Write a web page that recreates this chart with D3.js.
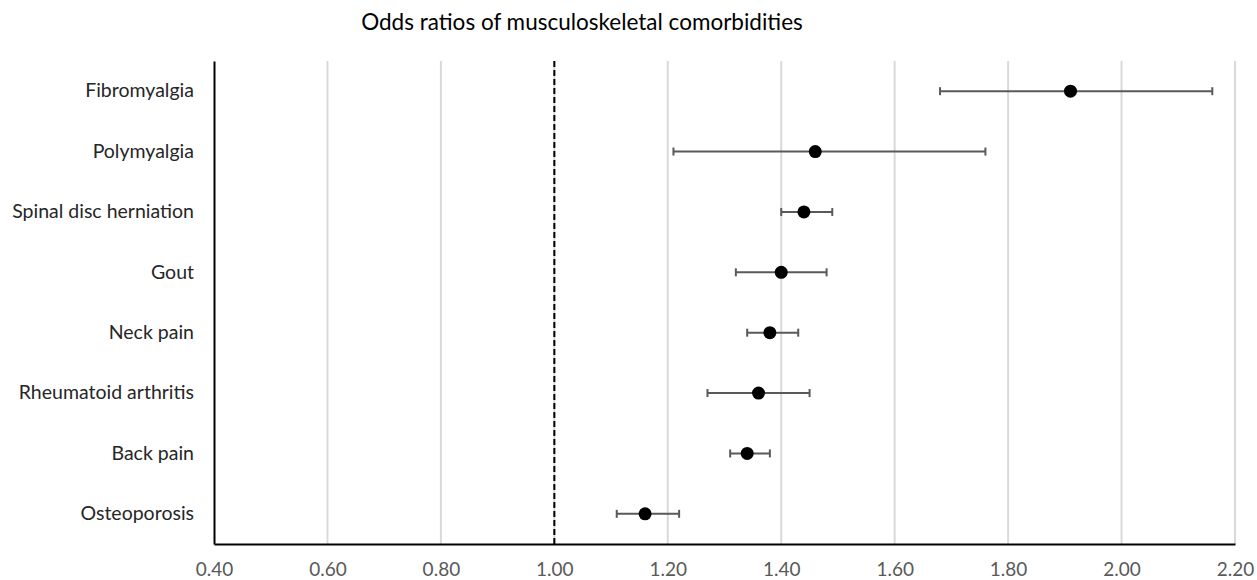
<!DOCTYPE html>
<html>
<head>
<meta charset="utf-8">
<script src="https://cdn.jsdelivr.net/npm/d3@7"></script>
<style>
  body { margin: 0; background: #fff; }
  svg { display: block; }
</style>
</head>
<body>
<div id="chart"></div>
<script>
// data
const conditions = ["Fibromyalgia", "Polymyalgia", "Spinal disc herniation", "Gout",
    "Neck pain", "Rheumatoid arthritis", "Back pain", "Osteoporosis"];
const oddsRatio = [1.91, 1.46, 1.44, 1.40, 1.38, 1.36, 1.34, 1.16];
const ciLower   = [1.68, 1.21, 1.40, 1.32, 1.34, 1.27, 1.31, 1.11];
const ciUpper   = [2.16, 1.76, 1.49, 1.48, 1.43, 1.45, 1.38, 1.22];
const xTicks = [0.4, 0.6, 0.8, 1.0, 1.2, 1.4, 1.6, 1.8, 2.0, 2.2];

const width = 1257, height = 580;
const margin = {top: 61, right: 22, bottom: 36, left: 214};
const font = "Lato, 'Open Sans', sans-serif";

let svg = d3.select("#chart").append("svg")
    .attr("width", width)
    .attr("height", height);

let x = d3.scaleLinear()
    .domain([0.4, 2.2])
    .range([margin.left, width - margin.right]);

let y = d3.scaleBand()
    .domain(conditions)
    .range([margin.top, height - margin.bottom]);

// title
svg.append("text")
    .attr("x", 582)
    .attr("y", 30)
    .attr("text-anchor", "middle")
    .attr("font-family", font)
    .attr("font-size", "22.5px")
    .attr("fill", "#000")
    .text("Odds ratios of musculoskeletal comorbidities");

// gridlines
svg.append("g")
    .selectAll("line")
    .data(xTicks.slice(1))
    .enter().append("line")
    .attr("x1", d => x(d))
    .attr("x2", d => x(d))
    .attr("y1", margin.top)
    .attr("y2", height - margin.bottom)
    .attr("stroke", "#d9d9d9")
    .attr("stroke-width", 2);

// reference line at 1
svg.append("line")
    .attr("x1", x(1))
    .attr("x2", x(1))
    .attr("y1", margin.top)
    .attr("y2", height - margin.bottom)
    .attr("stroke", "#000")
    .attr("stroke-width", 2)
    .attr("stroke-dasharray", "6,3");

// x axis
let xAxis = svg.append("g")
    .attr("transform", `translate(0, ${height - margin.bottom})`)
    .call(d3.axisBottom(x).tickValues(xTicks).tickSize(0).tickPadding(19).tickFormat(d3.format(".2f")));
xAxis.select(".domain").attr("stroke", "#000").attr("stroke-width", 2);
xAxis.selectAll("text")
    .attr("font-family", font)
    .attr("font-size", "19px")
    .attr("fill", "#595959");

// y axis
let yAxis = svg.append("g")
    .attr("transform", `translate(${margin.left}, 0)`)
    .call(d3.axisLeft(y).tickSize(0).tickPadding(20));
yAxis.select(".domain").attr("stroke", "#000").attr("stroke-width", 2);
yAxis.selectAll("text")
    .attr("font-family", font)
    .attr("font-size", "19.5px")
    .attr("fill", "#262626");

let rows = conditions.map((c, i) => ({name: c, or: oddsRatio[i], lo: ciLower[i], hi: ciUpper[i]}));
let cy = d => y(d.name) + y.bandwidth() / 2;

// error bars
let bars = svg.append("g")
    .selectAll("g")
    .data(rows)
    .enter().append("g")
    .attr("stroke", "#595959")
    .attr("stroke-width", 2);
bars.append("line")
    .attr("x1", d => x(d.lo))
    .attr("x2", d => x(d.hi))
    .attr("y1", cy)
    .attr("y2", cy);
bars.append("line")
    .attr("x1", d => x(d.lo))
    .attr("x2", d => x(d.lo))
    .attr("y1", d => cy(d) - 4)
    .attr("y2", d => cy(d) + 4);
bars.append("line")
    .attr("x1", d => x(d.hi))
    .attr("x2", d => x(d.hi))
    .attr("y1", d => cy(d) - 4)
    .attr("y2", d => cy(d) + 4);

// points
svg.append("g")
    .selectAll("circle")
    .data(rows)
    .enter().append("circle")
    .attr("cx", d => x(d.or))
    .attr("cy", cy)
    .attr("r", 6.5)
    .attr("fill", "#000");
</script>
</body>
</html>
